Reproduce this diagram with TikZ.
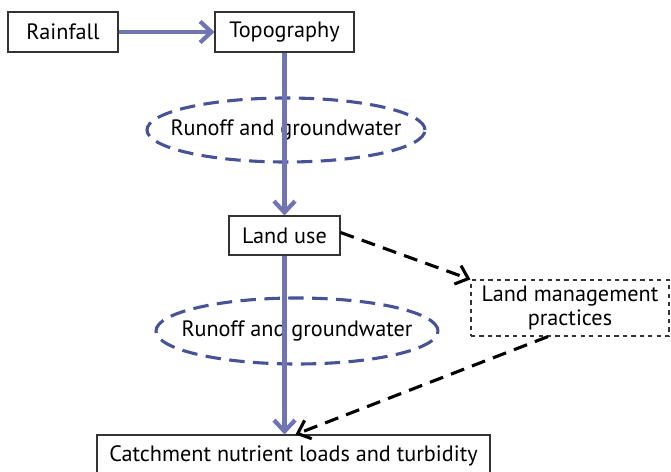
\documentclass[tikz,border=0pt]{standalone}
\usepackage{fontspec}
\setmainfont{PT Sans}
\usepackage{xcolor}
\usetikzlibrary{calc}
\usetikzlibrary{arrows.meta,shapes}
\definecolor{flowblue}{RGB}{112,116,180}
\definecolor{ringblue}{RGB}{72,82,150}

\begin{document}
\begin{tikzpicture}[x=0.025cm,y=-0.025cm,
    box/.style={
      rectangle,
      draw=black!80,
      line width=0.8pt,
      align=center,
      font=\fontsize{15.8}{17}\selectfont,
      inner sep=0pt
    },
    ringtext/.style={
      font=\fontsize{15.8}{17}\selectfont,
      inner sep=0pt
    },
    ring/.style={
      draw=ringblue,
      line width=2.2pt,
      dash pattern=on 11pt off 6pt
    },
    flow/.style={
      draw=flowblue,
      line width=3.4pt,
      -{Straight Barb[length=8pt,width=15pt,line width=3pt]}
    },
    link/.style={
      draw=black,
      line width=2.2pt,
      dash pattern=on 10pt off 6pt,
      -{Straight Barb[length=8pt,width=14pt,line width=2.2pt]}
    }
]
\useasboundingbox (0,0) rectangle (671,472);

% ellipses first so the lines run over them
\node [ringtext] (ring1) at (286,130) {Runoff and groundwater};
\draw [ring] (ring1.center) ellipse [x radius=139*0.025cm, y radius=32*0.025cm];
\node [ringtext] (ring2) at (297,331) {Runoff and groundwater};
\draw [ring] (ring2.center) ellipse [x radius=141*0.025cm, y radius=33*0.025cm];

\node [box, minimum width=110*0.025cm, minimum height=40*0.025cm] (rain) at (63,32) {Rainfall};
\node [box, minimum width=139*0.025cm, minimum height=40*0.025cm] (topo) at (284.5,32) {Topography};
\node [box, minimum width=111*0.025cm, minimum height=39*0.025cm] (landuse) at (284.5,235.5) {Land use};
\node [box, dashed, minimum width=198*0.025cm, minimum height=56*0.025cm] (manage) at (570,308) {Land management\\practices};
\node [box, minimum width=393*0.025cm, minimum height=42*0.025cm] (loads) at (293.5,456) {Catchment nutrient loads and turbidity};

%% Arrows
\draw [flow] (rain) -- (topo);
\draw [flow] (topo) -- (landuse);
\draw [flow] (landuse) -- (loads.north -| landuse);
\draw [link] ($(landuse.east)+(0,-3)$) -- (manage.north west);
\draw [link] ($(manage.south)+(-22,0)$) -- ($(loads.north)+(2,0)$);

\end{tikzpicture}
\end{document}
